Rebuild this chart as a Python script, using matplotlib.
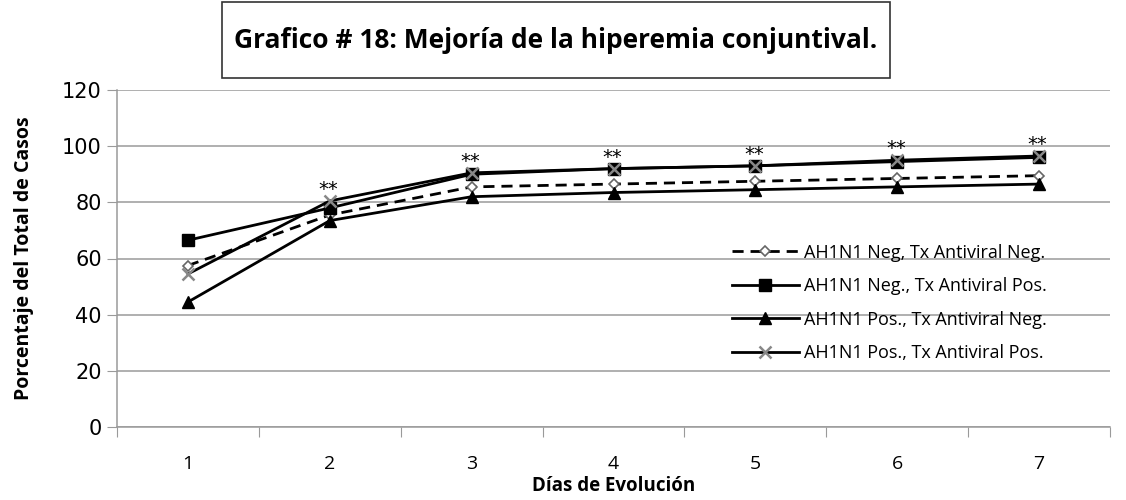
import numpy as np
import matplotlib
matplotlib.use("Agg")
import matplotlib.pyplot as plt
from matplotlib.patches import Rectangle
from matplotlib.ticker import FixedLocator, NullFormatter

## DATA
days = ["1", "2", "3", "4", "5", "6", "7"]
neg_neg = [57.5, 75.5, 85.5, 86.5, 87.5, 88.5, 89.5]
neg_pos = [66.5, 78.0, 90.0, 92.0, 93.0, 94.5, 96.0]
pos_neg = [44.5, 73.5, 82.0, 83.5, 84.5, 85.5, 86.5]
pos_pos = [54.5, 80.5, 90.5, 92.0, 93.0, 95.0, 96.5]
series_labels = ["AH1N1 Neg, Tx Antiviral Neg.",
                 "AH1N1 Neg., Tx Antiviral Pos.",
                 "AH1N1 Pos., Tx Antiviral Neg.",
                 "AH1N1 Pos., Tx Antiviral Pos."]
star_days = [2, 3, 4, 5, 6, 7]
y_ticks = [0, 20, 40, 60, 80, 100, 120]

title = "Grafico # 18: Mejoría de la hiperemia conjuntival."
xlabel = "Días de Evolución"
ylabel = "Porcentaje del Total de Casos"

## FIGURE
W, H = 1126, 500
fig = plt.figure(figsize=(W / 100, H / 100), dpi=100)
ax = fig.add_axes([117 / W, 73 / H, 993 / W, 337 / H])

x = np.arange(1, len(days) + 1)

ax.plot(x, neg_neg, color="black", linestyle=(0, (4, 2.5)), linewidth=2,
        marker="D", markersize=5.5, markerfacecolor="white",
        markeredgecolor="#666666", markeredgewidth=1.2, label=series_labels[0])
ax.plot(x, neg_pos, color="black", linewidth=2, marker="s", markersize=8,
        markerfacecolor="black", markeredgecolor="black", label=series_labels[1])
ax.plot(x, pos_neg, color="black", linewidth=2, marker="^", markersize=8,
        markerfacecolor="black", markeredgecolor="black", label=series_labels[2])
ax.plot(x, pos_pos, color="black", linewidth=2, marker="x", markersize=9,
        markeredgecolor="#888888", markeredgewidth=1.8, label=series_labels[3])

# significance marks above the top series
for d in star_days:
    top = max(neg_neg[d - 1], neg_pos[d - 1], pos_neg[d - 1], pos_pos[d - 1])
    ax.annotate("**", (d, top), xytext=(-1, 1.5), textcoords="offset points",
                ha="center", va="bottom", fontsize=14, family="DejaVu Sans")

## AXES
ax.set_xlim(0.5, len(days) + 0.5)
ax.set_ylim(0, 120)
ax.set_yticks(y_ticks)
ax.set_yticklabels([str(v) for v in y_ticks], fontsize=15, family="DejaVu Sans")
ax.yaxis.grid(True, color="#9a9a9a", linewidth=1.1)
ax.set_axisbelow(True)

ax.xaxis.set_major_locator(FixedLocator(np.arange(0.5, len(days) + 1, 1.0)))
ax.xaxis.set_major_formatter(NullFormatter())
ax.xaxis.set_minor_locator(FixedLocator(x))
ax.set_xticklabels(days, minor=True, fontsize=14, family="Open Sans")
ax.tick_params(axis="x", which="minor", length=0, pad=20)
ax.tick_params(axis="x", which="major", length=7, color="#9a9a9a", direction="out")
ax.tick_params(axis="y", length=7, color="#9a9a9a", direction="out", pad=4)

for s in ["top", "right"]:
    ax.spines[s].set_visible(False)
for s in ["left", "bottom"]:
    ax.spines[s].set_color("#9a9a9a")
    ax.spines[s].set_linewidth(1.1)

ax.set_xlabel(xlabel, fontsize=13.5, fontweight="bold", family="Open Sans", labelpad=2)
ax.set_ylabel(ylabel, fontsize=14, fontweight="bold", family="Open Sans", labelpad=20)

leg = ax.legend(loc="upper left", bbox_to_anchor=(0.612, 0.565), frameon=False,
                prop={"family": "Open Sans", "size": 13}, handlelength=3.7,
                handletextpad=0.3, labelspacing=0.85, borderaxespad=0)

## TITLE BOX
fig.patches.append(Rectangle((222 / W, 1 - 78 / H), 668 / W, 76 / H,
                             transform=fig.transFigure, facecolor="white",
                             edgecolor="#333333", linewidth=1.2))
fig.text(556 / W, 1 - 41 / H, title, ha="center", va="center",
         fontsize=19, fontweight="bold", family="Open Sans")

fig.savefig("out.png", dpi=100)
